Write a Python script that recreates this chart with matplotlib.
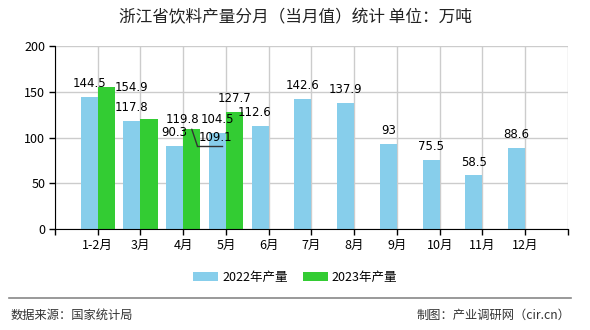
import matplotlib
matplotlib.use('Agg')
import matplotlib.pyplot as plt
from matplotlib.transforms import offset_copy
import numpy as np

plt.rcParams['font.family'] = ['Noto Sans CJK SC', 'DejaVu Sans']

# Data
months = ['1-2月', '3月', '4月', '5月', '6月', '7月', '8月', '9月', '10月', '11月', '12月']
prod_2022 = [144.5, 117.8, 90.3, 104.5, 112.6, 142.6, 137.9, 93, 75.5, 58.5, 88.6]
prod_2023 = [154.9, 119.8, 109.1, 127.7]

blue = '#87CEEB'
green = '#33CC33'
w = 0.4

fig = plt.figure(figsize=(5.9, 3.3), dpi=100)
ax = fig.add_axes([0.0932, 0.306, 0.8695, 0.5546])

x22 = np.arange(len(prod_2022))
x23 = np.arange(len(prod_2023))
ax.bar(x22 - w / 2, prod_2022, width=w, color=blue, label='2022年产量', zorder=2)
ax.bar(x23 + w / 2, prod_2023, width=w, color=green, label='2023年产量', zorder=2)

ax.set_xlim(-1, 11)
ax.set_ylim(0, 200)
ax.set_yticks([0, 50, 100, 150, 200])
ax.set_xticks(np.arange(-1, 12))
ax.set_xticklabels([''] + months + [''])
ax.tick_params(axis='both', labelsize=9, length=4, width=1, color='black', pad=3)
ax.grid(True, color='#cccccc', linewidth=1, zorder=0)
for s in ['top', 'right']:
    ax.spines[s].set_visible(False)

lab_font = dict(fontsize=8.5, family=['DejaVu Sans'], color='black', zorder=5)

# 2022 labels above bars (6月 nudged a bit left)
for i, v in enumerate(prod_2022):
    dx = -4 if i == 4 else 0
    ax.annotate(f'{v:g}', (i - w / 2, v), xytext=(dx, 5), textcoords='offset points',
                ha='center', va='bottom', **lab_font)

# 2023 labels: the first two are pushed to the right of the bar to avoid overlaps
for i, v in enumerate(prod_2023):
    if i < 2:
        ax.annotate(f'{v:g}', (i + w, v), xytext=(6 * i, 0), textcoords='offset points',
                    ha='left', va='center', **lab_font)
    elif i == 3:
        ax.annotate(f'{v:g}', (i + w / 2, v), xytext=(0, 5), textcoords='offset points',
                    ha='center', va='bottom', **lab_font)

# 4月 2023 label sits below-right with a leader line
xb = 2 + w / 2
yb = prod_2023[2]
ax.annotate(f'{yb:g}', (xb, yb), xytext=(17, -11), textcoords='offset points',
            ha='center', va='bottom', **lab_font)
ax.annotate('', (xb, yb), xytext=(4, -12), textcoords='offset points',
            arrowprops=dict(arrowstyle='-', color='#333333', lw=1, shrinkA=0, shrinkB=0))
line_tr = offset_copy(ax.transData, fig=fig, x=4, y=-12, units='points')
ax.plot([xb, xb + 0.58], [yb, yb], color='#333333', lw=1,
        transform=line_tr, zorder=5, clip_on=False)

fig.text(0.5, 0.945, '浙江省饮料产量分月（当月值）统计 单位：万吨', ha='center', va='center',
         fontsize=12, color='#222222')

ax.legend(loc='center', bbox_to_anchor=(0.5, 0.16), bbox_transform=fig.transFigure, ncol=2,
          frameon=False, fontsize=9, handlelength=2.0, handleheight=0.8, columnspacing=1.2,
          handletextpad=0.3)

# footer
fig.add_artist(plt.Line2D([0.015, 0.968], [0.097, 0.097], color='#888888', lw=1.2,
                          transform=fig.transFigure))
fig.text(0.017, 0.045, '数据来源：国家统计局', ha='left', va='center', fontsize=8.8, color='#333333')
fig.text(0.966, 0.045, '制图：产业调研网（cir.cn）', ha='right', va='center', fontsize=8.8, color='#333333')

fig.savefig('out.png', dpi=100)
